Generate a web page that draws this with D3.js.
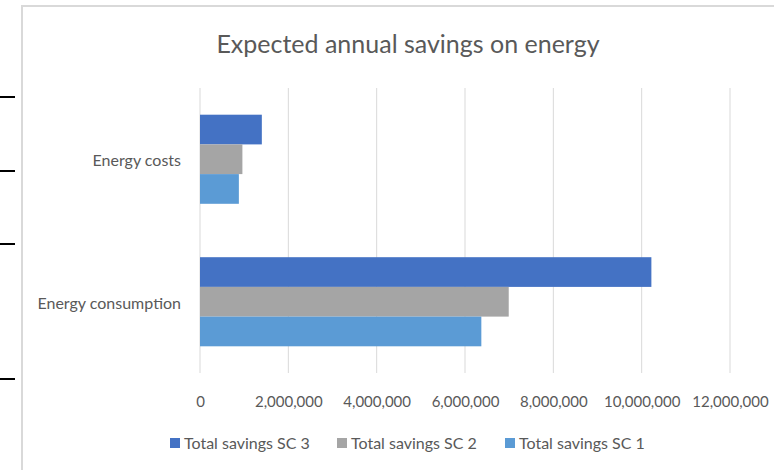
<!DOCTYPE html>
<html>
<head>
<meta charset="utf-8">
<script src="https://cdn.jsdelivr.net/npm/d3@7"></script>
<style>
  html, body { margin: 0; padding: 0; background: #fff; }
  svg { display: block; }
  text { font-family: Lato, "Open Sans", sans-serif; fill: #595959; }
</style>
</head>
<body>
<svg id="chart" width="774" height="470"></svg>
<script>
const categories = ["Energy costs", "Energy consumption"];
const seriesNames = ["Total savings SC 3", "Total savings SC 2", "Total savings SC 1"];
const seriesColors = ["#4472C4", "#A5A5A5", "#5B9BD5"];
const sc3Values = [1400000, 10220000];
const sc2Values = [960000, 6990000];
const sc1Values = [880000, 6370000];
const xTicks = [0, 2000000, 4000000, 6000000, 8000000, 10000000, 12000000];
const title = "Expected annual savings on energy";
const blackMarks = [97, 171, 244, 379];

const seriesValues = [sc3Values, sc2Values, sc1Values];
const svg = d3.select("#chart");

// chart area border (left/top only visible)
svg.append("line").attr("x1", 22).attr("x2", 22).attr("y1", 6).attr("y2", 470)
  .attr("stroke", "#d9d9d9").attr("stroke-width", 2);
svg.append("line").attr("x1", 21).attr("x2", 774).attr("y1", 6).attr("y2", 6)
  .attr("stroke", "#d9d9d9").attr("stroke-width", 2);

// black marks on the left edge
svg.selectAll("line.mark").data(blackMarks).join("line").attr("class", "mark")
  .attr("x1", 0).attr("x2", 15).attr("y1", d => d).attr("y2", d => d)
  .attr("stroke", "#000").attr("stroke-width", 2);

const x = d3.scaleLinear().domain([0, 12000000]).range([200, 730]);
const y = d3.scaleBand().domain(categories).range([88, 373]).paddingInner(0).paddingOuter(0);
const barH = 29.7;
const innerPos = d3.scaleBand().domain(seriesNames)
  .range([(y.bandwidth() - 3 * barH) / 2, (y.bandwidth() + 3 * barH) / 2]);

// gridlines
svg.append("g").selectAll("line").data(xTicks).join("line")
  .attr("x1", d => x(d)).attr("x2", d => x(d)).attr("y1", 88).attr("y2", 373)
  .attr("stroke", "#d9d9d9").attr("stroke-width", 1);

// bars
seriesNames.forEach((s, i) => {
  svg.append("g").selectAll("rect").data(categories).join("rect")
    .attr("x", x(0))
    .attr("y", (c) => y(c) + innerPos(s))
    .attr("width", (c, j) => x(seriesValues[i][j]) - x(0))
    .attr("height", innerPos.bandwidth())
    .attr("fill", seriesColors[i]);
});

// x axis labels
const xAxis = d3.axisBottom(x).tickValues(xTicks).tickSize(0).tickPadding(0)
  .tickFormat(d3.format(","));
const gx = svg.append("g").attr("transform", "translate(0,407)").call(xAxis);
gx.select(".domain").remove();
gx.selectAll("text").attr("y", 0).attr("dy", 0)
  .style("font-size", "15px").style("font-family", "Lato, sans-serif").attr("fill", "#595959");

// category labels
const yAxis = d3.axisLeft(y).tickSize(0).tickPadding(0);
const gy = svg.append("g").attr("transform", "translate(181,0)").call(yAxis);
gy.select(".domain").remove();
gy.selectAll("text").attr("dy", "0.45em")
  .style("font-size", "16px").style("font-family", "Lato, sans-serif").attr("fill", "#595959");

// title
svg.append("text").attr("x", 408).attr("y", 53).attr("text-anchor", "middle")
  .style("font-size", "25px").text(title);

// legend
const legendX = [170, 337, 505];
const lg = svg.append("g").selectAll("g").data(seriesNames).join("g")
  .attr("transform", (d, i) => `translate(${legendX[i]},438)`);
lg.append("rect").attr("width", 10).attr("height", 10).attr("fill", (d, i) => seriesColors[i]);
lg.append("text").attr("x", 14).attr("y", 11)
  .style("font-size", "16px").text(d => d);
</script>
</body>
</html>
